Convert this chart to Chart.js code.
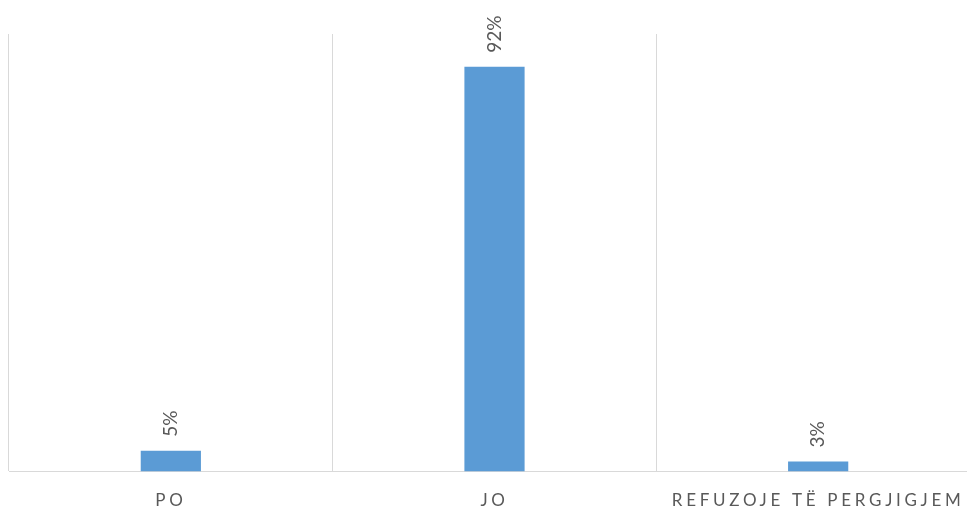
<!DOCTYPE html>
<html lang="sq">
<head>
    <meta charset="UTF-8">
    <title>Po / Jo</title>
    <script src="https://cdn.jsdelivr.net/npm/chart.js"></script>
    <style>
        body {
            margin: 0;
            overflow: hidden;
            background: #fff;
        }
        #chart-container {
            width: 990px;
            height: 506px;
            position: relative;
        }
    </style>
</head>
<body>
    <div id="chart-container">
        <canvas id="barChart"></canvas>
    </div>
    <script>
        const categories = ['PO', 'JO', 'REFUZOJE TË PERGJIGJEM'];
        const shares = [4.75, 92.5, 2.3];
        const shareLabels = ['5%', '92%', '3%'];

        const gridColor = '#d9d9d9';
        const barColor = '#5b9bd5';
        const textColor = '#595959';

        // category labels are spaced out like the original
        const letterSpacingPlugin = {
            id: 'letterSpacing',
            beforeLayout(chart) { chart.ctx.letterSpacing = '3.7px'; },
            beforeDraw(chart) { chart.ctx.letterSpacing = '3.7px'; }
        };

        // rotated value labels above each bar
        const barLabels = {
            id: 'barLabels',
            afterDatasetsDraw(chart) {
                const ctx = chart.ctx;
                const meta = chart.getDatasetMeta(0);
                ctx.save();
                ctx.letterSpacing = '0px';
                ctx.font = '19px Lato';
                ctx.fillStyle = textColor;
                ctx.textAlign = 'left';
                ctx.textBaseline = 'middle';
                meta.data.forEach((bar, i) => {
                    ctx.save();
                    ctx.translate(bar.x, bar.y - 14);
                    ctx.rotate(-Math.PI / 2);
                    ctx.fillText(shareLabels[i], 0, 0);
                    ctx.restore();
                });
                ctx.restore();
            }
        };

        new Chart(document.getElementById('barChart'), {
            type: 'bar',
            data: {
                labels: categories,
                datasets: [{
                    data: shares,
                    backgroundColor: barColor,
                    categoryPercentage: 1,
                    barPercentage: 0.186
                }]
            },
            options: {
                responsive: true,
                maintainAspectRatio: false,
                animation: false,
                layout: {
                    padding: { top: 34, left: 9, right: 10, bottom: -24 }
                },
                plugins: {
                    legend: { display: false },
                    tooltip: { enabled: false }
                },
                scales: {
                    x: {
                        offset: true,
                        grid: {
                            offset: true,
                            color: gridColor,
                            drawTicks: false
                        },
                        border: { color: gridColor },
                        ticks: {
                            autoSkip: false,
                            maxRotation: 0,
                            padding: 19,
                            color: textColor,
                            font: { family: 'Lato', size: 17 }
                        }
                    },
                    y: {
                        display: false,
                        min: 0,
                        max: 100
                    }
                }
            },
            plugins: [letterSpacingPlugin, barLabels]
        });
    </script>
</body>
</html>
